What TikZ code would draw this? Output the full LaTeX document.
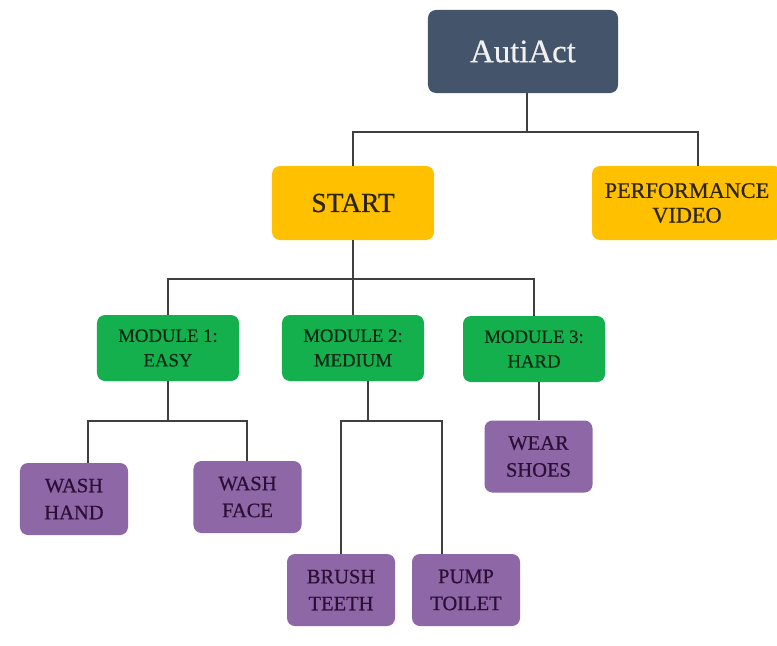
\documentclass[tikz,border=0pt]{standalone}
\usepackage{fontspec}
\setmainfont{Liberation Serif}[FakeBold=0.6]
\definecolor{navy}{HTML}{44546A}
\definecolor{gold}{HTML}{FFC000}
\definecolor{grn}{HTML}{14B04E}
\definecolor{purp}{HTML}{8E67A6}
\definecolor{conncol}{HTML}{3F3F3F}
\definecolor{goldtext}{HTML}{2E2408}
\definecolor{grntext}{HTML}{0E2A14}
\definecolor{purptext}{HTML}{2A0F36}
\begin{document}
\begin{tikzpicture}[x=0.03cm,y=-0.03cm,
  box/.style={rounded corners=0.24cm, align=center, inner sep=0pt},
  topbox/.style={box, fill=navy, text=white!94!black, minimum width=5.7cm, minimum height=2.49cm, font=\fontsize{28}{32}\selectfont},
  startbox/.style={box, fill=gold, text=goldtext, minimum width=4.86cm, minimum height=2.22cm, font=\fontsize{23.5}{27}\selectfont},
  perfbox/.style={box, fill=gold, text=goldtext, minimum width=5.7cm, minimum height=2.22cm, font=\fontsize{19}{21}\selectfont},
  modbox/.style={box, fill=grn, text=grntext, minimum width=4.26cm, minimum height=1.98cm, font=\fontsize{16}{21}\selectfont},
  taskbox/.style={box, fill=purp, text=purptext, minimum width=3.24cm, minimum height=2.16cm, font=\fontsize{17.5}{23}\selectfont},
  conn/.style={draw=conncol, line width=1.6pt}]
\useasboundingbox (0,0) rectangle (777,646);
\fill[white] (0,0) rectangle (777,646);

\node[topbox] (auti) at (523,51.5) {AutiAct};
\node[startbox] (start) at (353,203) {START};
\node[perfbox] (perf) at (687,203) {PERFORMANCE\\VIDEO};

\node[modbox] (m1) at (168,348) {MODULE 1:\\EASY};
\node[modbox] (m2) at (353,348) {MODULE 2:\\MEDIUM};
\node[modbox] (m3) at (534,349) {MODULE 3:\\HARD};

\node[taskbox] (wh) at (74,499) {WASH\\HAND};
\node[taskbox] (wf) at (247.5,497) {WASH\\FACE};
\node[taskbox] (bt) at (341,590) {BRUSH\\TEETH};
\node[taskbox] (pt) at (466,590) {PUMP\\TOILET};
\node[taskbox] (ws) at (538.5,456.5) {WEAR\\SHOES};

\coordinate (b1) at (0,132);
\coordinate (b2) at (0,279);
\coordinate (b3) at (0,421);

% level 1
\draw[conn] ([xshift=0.12cm]auti.south) -- ([xshift=0.12cm]auti.south |- b1);
\draw[conn] (start.north) -- (start.north |- b1) -- ([xshift=0.33cm]perf.north |- b1) -- ([xshift=0.33cm]perf.north);

% level 2
\draw[conn] (start.south) -- (m2.north);
\draw[conn] (m1.north) -- (m1.north |- b2) -- (m3.north |- b2) -- (m3.north);

% level 3
\draw[conn] (m1.south) -- (m1.south |- b3);
\draw[conn] ([xshift=0.42cm]wh.north) -- ([xshift=0.42cm]wh.north |- b3) -- ([xshift=-0.015cm]wf.north |- b3) -- ([xshift=-0.015cm]wf.north);
\draw[conn] ([xshift=0.45cm]m2.south) -- ([xshift=0.45cm]m2.south |- b3);
\draw[conn] (bt.north) -- (bt.north |- b3) -- ([xshift=-0.72cm]pt.north |- b3) -- ([xshift=-0.72cm]pt.north);
\draw[conn] ([xshift=0.15cm]m3.south) -- ([xshift=0.15cm]m3.south |- ws.north);
\end{tikzpicture}
\end{document}
